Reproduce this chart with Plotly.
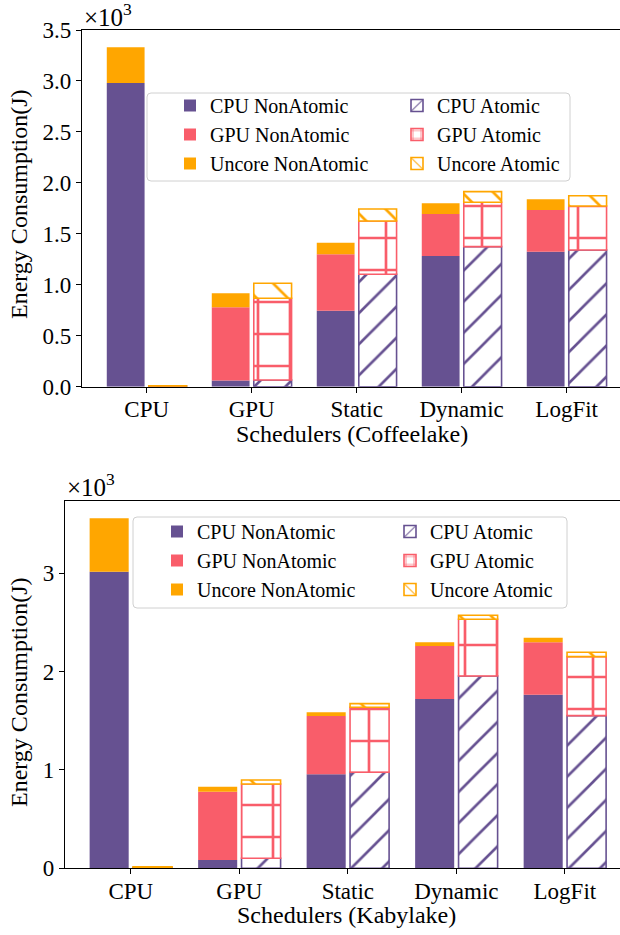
import plotly.graph_objects as go

schedulers = ["CPU", "GPU", "Static", "Dynamic", "LogFit"]

# Coffeelake energy per component (J)
cl_cpu_nonatomic = [2980, 60, 745, 1283, 1325]
cl_gpu_nonatomic = [0, 720, 555, 412, 409]
cl_unc_nonatomic = [350, 137, 113, 105, 105]
cl_cpu_atomic = [5, 66, 1103, 1374, 1342]
cl_gpu_atomic = [0, 802, 523, 436, 431]
cl_unc_atomic = [5, 147, 118, 104, 101]

# Kabylake energy per component (J)
kl_cpu_nonatomic = [3017, 85, 956, 1722, 1766]
kl_gpu_nonatomic = [0, 694, 593, 539, 533]
kl_unc_nonatomic = [544, 51, 38, 38, 47]
kl_cpu_atomic = [8, 102, 977, 1956, 1553]
kl_gpu_atomic = [0, 756, 661, 577, 600]
kl_unc_atomic = [6, 40, 37, 41, 44]

cl_yticks = [0, 500, 1000, 1500, 2000, 2500, 3000, 3500]
cl_yticktext = ["0.0", "0.5", "1.0", "1.5", "2.0", "2.5", "3.0", "3.5"]
kl_yticks = [0, 1000, 2000, 3000]
kl_yticktext = ["0", "1", "2", "3"]

PURPLE = "#665191"
RED = "#f95d6a"
ORANGE = "#ffa600"
FONT = "Liberation Serif"

W, H = 620, 935
BAR_W = 0.36

fig = go.Figure()


def add_chart(xa, ya, legends, nonatomic, atomic):
    names = ["CPU", "GPU", "Uncore"]
    colors = [PURPLE, RED, ORANGE]
    hatches = [("/", 22, 0.12), ("+", 32, 0.16), ("\\", 22, 0.12)]
    base_na = [0] * len(schedulers)
    base_a = [0] * len(schedulers)
    for i in range(3):
        fig.add_trace(go.Bar(
            x=schedulers, y=nonatomic[i], base=list(base_na),
            width=BAR_W, offset=-0.2 - BAR_W / 2,
            marker=dict(color=colors[i], line=dict(width=0)),
            name=f"{names[i]} NonAtomic", xaxis=xa, yaxis=ya,
            legend=legends[0],
        ))
        base_na = [b + v for b, v in zip(base_na, nonatomic[i])]
    for i in range(3):
        shape, size, solidity = hatches[i]
        fig.add_trace(go.Bar(
            x=schedulers, y=atomic[i], base=list(base_a),
            width=BAR_W, offset=0.2 - BAR_W / 2,
            marker=dict(
                color="white",
                line=dict(color=colors[i], width=1.6),
                pattern=dict(shape=shape, size=size, solidity=solidity,
                             fgcolor=colors[i], bgcolor="white",
                             fgopacity=1, fillmode="overlay"),
            ),
            name=f"{names[i]} Atomic", xaxis=xa, yaxis=ya,
            legend=legends[1],
        ))
        base_a = [b + v for b, v in zip(base_a, atomic[i])]


add_chart("x", "y", ["legend", "legend2"],
          [cl_cpu_nonatomic, cl_gpu_nonatomic, cl_unc_nonatomic],
          [cl_cpu_atomic, cl_gpu_atomic, cl_unc_atomic])
add_chart("x2", "y2", ["legend3", "legend4"],
          [kl_cpu_nonatomic, kl_gpu_nonatomic, kl_unc_nonatomic],
          [kl_cpu_atomic, kl_gpu_atomic, kl_unc_atomic])

# pixel geometry of the two plot areas
top_l, top_t, top_b = 82, 30, 386.7
bot_l, bot_t, bot_b = 65, 501, 868.3

axis_common = dict(
    showline=True, linecolor="black", linewidth=1.2,
    ticks="outside", ticklen=5, tickwidth=1.2, tickcolor="black",
    showgrid=False, zeroline=False, automargin=False,
    tickfont=dict(family=FONT, size=23, color="black"),
)

legend_common = dict(
    orientation="v", xanchor="left", yanchor="top",
    bgcolor="rgba(0,0,0,0)", borderwidth=0,
    font=dict(family=FONT, size=20, color="black"),
    traceorder="normal", itemwidth=30,
)


def px(x):
    return x / W


def py(y):
    return 1 - y / H


fig.update_layout(
    width=W, height=H,
    margin=dict(l=0, r=0, t=0, b=0),
    paper_bgcolor="white", plot_bgcolor="white",
    barmode="overlay",
    font=dict(family=FONT, color="black"),
    xaxis=dict(domain=[px(top_l), 1], anchor="y", range=[-0.616, 4.508],
               mirror=True, ticklabelstandoff=-3, **axis_common),
    yaxis=dict(domain=[py(top_b), py(top_t)], anchor="x",
               range=[0, 3500], tickvals=cl_yticks, ticktext=cl_yticktext,
               **axis_common),
    xaxis2=dict(domain=[px(bot_l), 1], anchor="y2", range=[-0.607, 4.508],
                mirror=True, ticklabelstandoff=-3, **axis_common),
    yaxis2=dict(domain=[py(bot_b), py(bot_t)], anchor="x2",
                range=[0, 3736], tickvals=kl_yticks, ticktext=kl_yticktext,
                **axis_common),
    legend=dict(x=px(170), y=py(86), **legend_common),
    legend2=dict(x=px(397), y=py(86), **legend_common),
    legend3=dict(x=px(157), y=py(512), **legend_common),
    legend4=dict(x=px(390), y=py(512), **legend_common),
)


def rounded_box(x0, y0, x1, y1, r=4):
    """Rounded rectangle path in paper coordinates from pixel corners."""
    return (f"M {px(x0 + r)},{py(y0)} L {px(x1 - r)},{py(y0)} "
            f"Q {px(x1)},{py(y0)} {px(x1)},{py(y0 + r)} "
            f"L {px(x1)},{py(y1 - r)} Q {px(x1)},{py(y1)} {px(x1 - r)},{py(y1)} "
            f"L {px(x0 + r)},{py(y1)} Q {px(x0)},{py(y1)} {px(x0)},{py(y1 - r)} "
            f"L {px(x0)},{py(y0 + r)} Q {px(x0)},{py(y0)} {px(x0 + r)},{py(y0)} Z")


legend_frames = [(147, 93, 570, 181), (133, 517, 567, 608)]
fig.update_layout(shapes=[
    dict(type="path", path=rounded_box(*b), xref="paper", yref="paper",
         fillcolor="rgba(255,255,255,0.8)", line=dict(color="#d0d0d0", width=1),
         layer="above")
    for b in legend_frames
])

title_font = dict(family=FONT, size=24, color="black")
annotations = [
    # x-axis titles
    dict(text="Schedulers (Coffeelake)", x=px(352), y=py(434),
         xref="paper", yref="paper", xanchor="center", yanchor="middle",
         showarrow=False, font=title_font),
    dict(text="Schedulers (Kabylake)", x=px(346), y=py(915),
         xref="paper", yref="paper", xanchor="center", yanchor="middle",
         showarrow=False, font=title_font),
    # y-axis titles
    dict(text="Energy Consumption(J)", x=px(19), y=py(204),
         xref="paper", yref="paper", xanchor="center", yanchor="middle",
         textangle=-90, showarrow=False, font=title_font),
    dict(text="Energy Consumption(J)", x=px(19), y=py(692),
         xref="paper", yref="paper", xanchor="center", yanchor="middle",
         textangle=-90, showarrow=False, font=title_font),
    # scale multipliers
    dict(text="×10<sup>3</sup>", x=px(top_l), y=py(33), xref="paper",
         yref="paper", xanchor="left", yanchor="bottom", showarrow=False,
         font=dict(family=FONT, size=25, color="black")),
    dict(text="×10<sup>3</sup>", x=px(bot_l), y=py(503), xref="paper",
         yref="paper", xanchor="left", yanchor="bottom", showarrow=False,
         font=dict(family=FONT, size=25, color="black")),
]
fig.update_layout(annotations=annotations)

fig.write_html("out.html")
